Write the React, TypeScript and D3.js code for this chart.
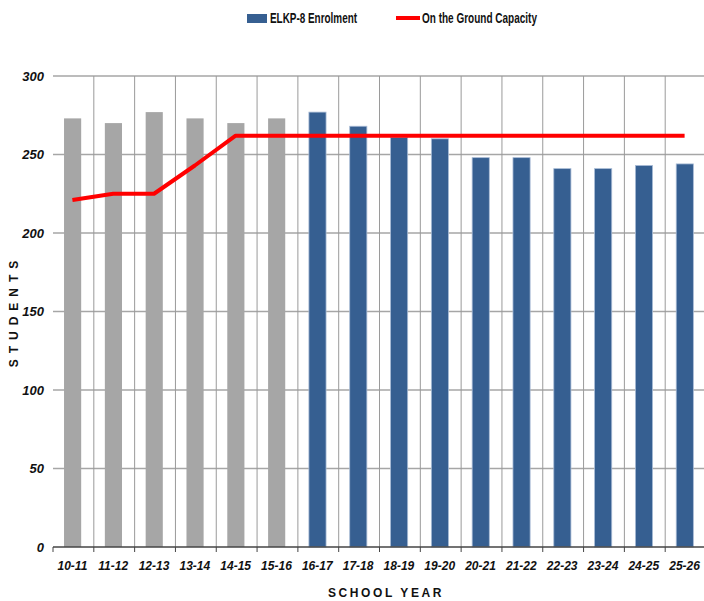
import * as d3 from 'd3'
import { useEffect, useRef } from 'react'

const schoolYears = ['10-11', '11-12', '12-13', '13-14', '14-15', '15-16', '16-17', '17-18',
    '18-19', '19-20', '20-21', '21-22', '22-23', '23-24', '24-25', '25-26']
const enrolment = [273, 270, 277, 273, 270, 273, 277, 268, 261, 260, 248, 248, 241, 241, 243, 244]
const capacity = [221, 225, 225, 243, 262, 262, 262, 262, 262, 262, 262, 262, 262, 262, 262, 262]
const historicalYears = 6
const yTicks = [0, 50, 100, 150, 200, 250, 300]

export default function App() {
    const svgRef = useRef<SVGSVGElement>(null)

    useEffect(() => {
        makeChart(svgRef)
    }, [])

    function makeChart(svgRef: React.RefObject<SVGSVGElement>) {
        const width = 704
        const height = 601
        const left = 53
        const right = 706
        const top = 76
        const bottom = 547

        const svg = d3.select(svgRef.current).attr('width', width).attr('height', height)
        svg.selectAll('*').remove()

        const xScale = d3.scaleBand().domain(schoolYears).range([left, right])
        const yScale = d3.scaleLinear().domain([0, 300]).range([bottom, top])
        const bw = xScale.bandwidth()
        const barW = bw * 0.42

        // horizontal grid
        svg.append('g').selectAll('line').data(yTicks.filter(t => t > 0)).enter().append('line')
            .attr('x1', left).attr('x2', width)
            .attr('y1', d => yScale(d)).attr('y2', d => yScale(d))
            .attr('stroke', '#a6a6a6').attr('stroke-width', 1.3)

        // vertical grid at band edges
        svg.append('g').selectAll('line').data(schoolYears.slice(1)).enter().append('line')
            .attr('x1', d => xScale(d)!).attr('x2', d => xScale(d)!)
            .attr('y1', top).attr('y2', bottom)
            .attr('stroke', '#9a9a9a').attr('stroke-width', 1)

        // y labels
        svg.append('g').selectAll('text').data(yTicks).enter().append('text')
            .attr('x', 44).attr('y', d => yScale(d)).attr('dy', '0.35em')
            .attr('text-anchor', 'end')
            .attr('font-family', 'Liberation Sans, Arial, sans-serif')
            .attr('font-size', 13).attr('font-weight', 'bold').attr('font-style', 'italic')
            .attr('fill', '#111')
            .text(d => d)

        // bars
        svg.append('g').selectAll('rect').data(enrolment).enter().append('rect')
            .attr('x', (d, i) => xScale(schoolYears[i])! + (bw - barW) / 2 - 0.8)
            .attr('width', barW)
            .attr('y', d => yScale(d))
            .attr('height', d => bottom - yScale(d))
            .attr('fill', (d, i) => i < historicalYears ? '#a6a6a6' : '#365f91')
            .attr('stroke', (d, i) => i < historicalYears ? 'none' : '#a9bcd6')
            .attr('stroke-width', 0.8)

        // x axis
        svg.append('line').attr('x1', left).attr('x2', right).attr('y1', bottom).attr('y2', bottom)
            .attr('stroke', '#444').attr('stroke-width', 1.5)
        svg.append('g').selectAll('line').data(schoolYears).enter().append('line')
            .attr('x1', d => xScale(d)!).attr('x2', d => xScale(d)!)
            .attr('y1', bottom).attr('y2', bottom + 5)
            .attr('stroke', '#444').attr('stroke-width', 1)
        svg.append('g').selectAll('text').data(schoolYears).enter().append('text')
            .attr('x', d => xScale(d)! + bw / 2 - 1).attr('y', 570)
            .attr('text-anchor', 'middle')
            .attr('font-family', 'Liberation Sans, Arial, sans-serif')
            .attr('font-size', 12).attr('font-weight', 'bold').attr('font-style', 'italic')
            .attr('fill', '#111')
            .text(d => d)

        // capacity line
        const line = d3.line<number>()
            .x((d, i) => xScale(schoolYears[i])! + bw / 2 - 1)
            .y(d => yScale(d))
        svg.append('path').datum(capacity).attr('d', line)
            .attr('fill', 'none').attr('stroke', '#ff0000').attr('stroke-width', 4)
            .attr('stroke-linejoin', 'round')

        // axis titles
        svg.append('text').attr('x', 386).attr('y', 597).attr('text-anchor', 'middle')
            .attr('font-family', 'Liberation Sans, Arial, sans-serif')
            .attr('font-size', 12).attr('font-weight', 'bold').attr('letter-spacing', 2.6)
            .attr('fill', '#111').text('SCHOOL YEAR')
        svg.append('text').attr('transform', 'translate(18, 311) rotate(-90)')
            .attr('text-anchor', 'middle')
            .attr('font-family', 'Liberation Sans, Arial, sans-serif')
            .attr('font-size', 12).attr('font-weight', 'bold').attr('letter-spacing', 6)
            .attr('fill', '#111').text('STUDENTS')

        // legend
        const legend = svg.append('g')
        legend.append('rect').attr('x', 247).attr('y', 14).attr('width', 20).attr('height', 9)
            .attr('fill', '#365f91')
        legend.append('text').attr('x', 270).attr('y', 23)
            .attr('font-family', 'Liberation Sans Narrow, Arial Narrow, Liberation Sans, sans-serif')
            .attr('font-size', 14).attr('font-weight', 'bold').attr('fill', '#111')
            .attr('textLength', 87).attr('lengthAdjust', 'spacingAndGlyphs')
            .text('ELKP-8 Enrolment')
        legend.append('line').attr('x1', 396).attr('x2', 420).attr('y1', 18).attr('y2', 18)
            .attr('stroke', '#ff0000').attr('stroke-width', 4)
        legend.append('text').attr('x', 422).attr('y', 23)
            .attr('font-family', 'Liberation Sans Narrow, Arial Narrow, Liberation Sans, sans-serif')
            .attr('font-size', 14).attr('font-weight', 'bold').attr('fill', '#111')
            .attr('textLength', 115).attr('lengthAdjust', 'spacingAndGlyphs')
            .text('On the Ground Capacity')
    }

    return (
        <svg ref={svgRef} style={{ position: 'absolute', left: 0, top: 0, display: 'block' }}></svg>
    )
}
